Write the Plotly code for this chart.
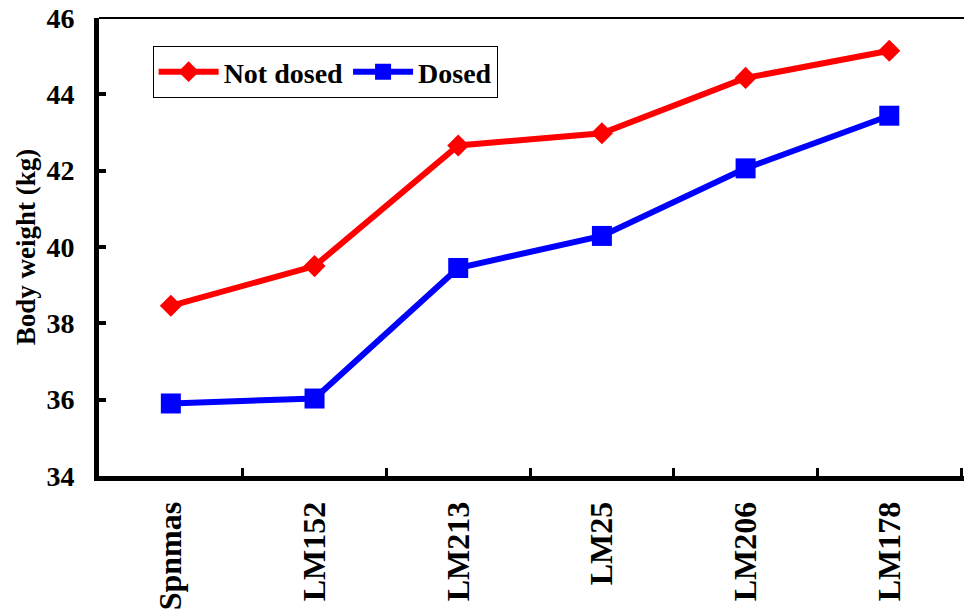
import plotly.graph_objects as go

categories = ["Spnmas", "LM152", "LM213", "LM25", "LM206", "LM178"]
not_dosed = [38.46, 39.50, 42.66, 42.98, 44.43, 45.14]
dosed = [35.90, 36.03, 39.45, 40.29, 42.06, 43.44]
y_ticks = [34, 36, 38, 40, 42, 44, 46]

FONT = "Liberation Serif, Times New Roman, serif"

fig = go.Figure()
fig.add_trace(go.Scatter(
    x=categories, y=not_dosed, name="Not dosed", mode="lines+markers",
    line=dict(color="#FF0000", width=6),
    marker=dict(symbol="diamond", size=17, color="#FF0000"),
))
fig.add_trace(go.Scatter(
    x=categories, y=dosed, name="Dosed", mode="lines+markers",
    line=dict(color="#0000FF", width=6),
    marker=dict(symbol="square", size=20, color="#0000FF"),
))

fig.update_layout(
    width=964, height=614,
    margin=dict(l=99, r=0, t=18, b=138),
    plot_bgcolor="white", paper_bgcolor="white",
    showlegend=True,
    legend=dict(
        orientation="h", x=0.062, y=0.939, xanchor="left", yanchor="top",
        bordercolor="black", borderwidth=1, bgcolor="white",
        font=dict(family=FONT, size=28, color="black", weight="bold"),
        itemwidth=60, tracegroupgap=0,
    ),
    xaxis=dict(
        type="category", range=[-0.5, 5.52], automargin=False,
        showline=True, linecolor="black", linewidth=5,
        ticks="inside", tickson="boundaries", ticklen=8, tickwidth=3, tickcolor="black",
        tickangle=-90, ticklabelstandoff=8,
        tickfont=dict(family=FONT, size=32, color="black", weight="bold"),
        showgrid=False, zeroline=False,
    ),
    yaxis=dict(
        range=[34, 46], tickvals=y_ticks, automargin=False,
        showline=True, linecolor="black", linewidth=5,
        ticks="inside", ticklen=7, tickwidth=4, tickcolor="black",
        ticklabelstandoff=14,
        tickfont=dict(family=FONT, size=28, color="black", weight="bold"),
        title=dict(text="Body weight (kg)", standoff=4,
                   font=dict(family=FONT, size=27, color="black", weight="bold")),
        showgrid=False, zeroline=False,
    ),
    shapes=[dict(type="line", xref="paper", yref="paper", x0=0, x1=1, y0=1, y1=1,
                 line=dict(color="black", width=2))],
)

fig.write_html("out.html", config={"displayModeBar": False},
               post_script="document.body.style.margin='0';")
